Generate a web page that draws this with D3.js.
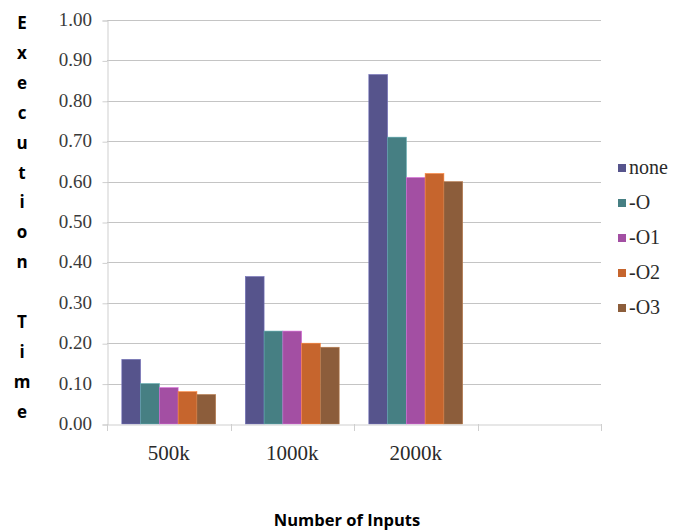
<!DOCTYPE html>
<html>
<head>
<meta charset="utf-8">
<script src="https://cdn.jsdelivr.net/npm/d3@7"></script>
</head>
<body style="margin:0">
<svg id="chart" width="683" height="531"></svg>
<script>
// Input sizes along the x axis (the last slot is left empty)
const categories = ["500k", "1000k", "2000k", ""];
// Compiler optimisation flags
const series = ["none", "-O", "-O1", "-O2", "-O3"];
const seriesColors = ["#56548c", "#467f83", "#a34fa3", "#c6652d", "#8c5d3b"];
// Execution time per flag, one entry per input size
const noneVals = [0.16, 0.365, 0.865];
const oVals = [0.10, 0.23, 0.71];
const o1Vals = [0.09, 0.23, 0.61];
const o2Vals = [0.08, 0.20, 0.62];
const o3Vals = [0.073, 0.19, 0.60];
const yTicks = [0, 0.1, 0.2, 0.3, 0.4, 0.5, 0.6, 0.7, 0.8, 0.9, 1.0];
const yTitle = "Execution Time";
const xTitle = "Number of Inputs";

const serifFace = d => `"Liberation Serif"`;
const sansFace = d => `"Open Sans"`;

const values = [noneVals, oVals, o1Vals, o2Vals, o3Vals];
const rows = categories.slice(0, 3).map((c, i) => ({
  cat: c,
  vals: series.map((s, j) => ({ key: s, color: seriesColors[j], v: values[j][i] }))
}));

const svg = d3.select("#chart");
const plotLeft = 107, plotRight = 601, plotTop = 20, plotBottom = 424;

const y = d3.scaleLinear().domain([0, 1]).range([plotBottom, plotTop]);
const x0 = d3.scaleBand().domain(categories).range([plotLeft, plotRight]).padding(0);
const bw = x0.bandwidth();
const x1 = d3.scaleBand().domain(series).range([bw * 0.12, bw * 0.88]).padding(0);

// horizontal gridlines
svg.append("g")
  .selectAll("line")
  .data(yTicks.slice(1))
  .join("line")
  .attr("x1", plotLeft).attr("x2", plotRight)
  .attr("y1", d => Math.round(y(d)) + 0.5).attr("y2", d => Math.round(y(d)) + 0.5)
  .attr("stroke", "#c4c4c4").attr("stroke-width", 1.2);

// y axis: lines from d3, labels drawn as plain text
const yAxis = svg.append("g")
  .attr("transform", `translate(${plotLeft + 0.5},0.5)`)
  .call(d3.axisLeft(y).tickValues(yTicks).tickFormat("").tickSize(5));
yAxis.select(".domain").attr("stroke", "#cfcfcf");
yAxis.selectAll(".tick line").attr("stroke", "#cfcfcf");
svg.selectAll("text.ylab")
  .data(yTicks)
  .join("text")
  .attr("class", "ylab")
  .attr("x", plotLeft - 15)
  .attr("y", d => y(d) + 6)
  .attr("text-anchor", "end")
  .style("font-family", serifFace)
  .style("font-size", "19px")
  .attr("fill", "#3a3a3a")
  .text(d3.format(".2f"));

// bars
const groups = svg.append("g")
  .selectAll("g")
  .data(rows)
  .join("g")
  .attr("transform", d => `translate(${x0(d.cat)},0)`);
groups.selectAll("rect")
  .data(d => d.vals)
  .join("rect")
  .attr("x", d => x1(d.key))
  .attr("y", d => y(d.v))
  .attr("width", x1.bandwidth())
  .attr("height", d => y(0) - y(d.v))
  .attr("fill", d => d.color)
  .attr("stroke", d => d3.color(d.color).brighter(0.8))
  .attr("stroke-width", 0.6);

// x axis line and category boundary ticks
const xAxis = svg.append("g")
  .attr("transform", `translate(0.5,${plotBottom + 0.5})`)
  .call(d3.axisBottom(x0).tickSize(0).tickFormat(""));
xAxis.select(".domain").attr("stroke", "#cfcfcf");
const bounds = categories.map(c => x0(c)).concat([plotRight]);
svg.append("g")
  .selectAll("line")
  .data(bounds)
  .join("line")
  .attr("x1", d => Math.round(d) + 0.5).attr("x2", d => Math.round(d) + 0.5)
  .attr("y1", plotBottom).attr("y2", plotBottom + 7)
  .attr("stroke", "#cfcfcf");
// category labels
svg.selectAll("text.xlab")
  .data(categories)
  .join("text")
  .attr("class", "xlab")
  .attr("x", d => x0(d) + bw / 2)
  .attr("y", plotBottom + 36)
  .attr("text-anchor", "middle")
  .style("font-family", serifFace)
  .style("font-size", "21px")
  .attr("fill", "#2a2a2a")
  .text(d => d);

// vertical stacked y title
svg.selectAll("text.ytitle")
  .data(yTitle.split(""))
  .join("text")
  .attr("class", "ytitle")
  .attr("x", 22)
  .attr("y", (d, i) => 29 + i * 29.9)
  .attr("text-anchor", "middle")
  .style("font-family", sansFace)
  .style("font-weight", "700")
  .style("font-size", "17px")
  .attr("fill", "#000")
  .text(d => d.trim());

// x title
svg.append("text")
  .attr("x", 347)
  .attr("y", 526)
  .attr("text-anchor", "middle")
  .style("font-family", sansFace)
  .style("font-weight", "700")
  .style("font-size", "16.5px")
  .attr("fill", "#000")
  .text(xTitle);

// legend
svg.selectAll("rect.key")
  .data(series)
  .join("rect")
  .attr("class", "key")
  .attr("x", 618).attr("y", (d, i) => 164 + i * 35)
  .attr("width", 8).attr("height", 8)
  .attr("fill", (d, i) => seriesColors[i]);
svg.selectAll("text.key")
  .data(series)
  .join("text")
  .attr("class", "key")
  .attr("x", 629).attr("y", (d, i) => 174 + i * 35)
  .style("font-family", serifFace)
  .style("font-size", "20px")
  .attr("fill", "#2a2a2a")
  .text(d => d);
</script>
</body>
</html>
